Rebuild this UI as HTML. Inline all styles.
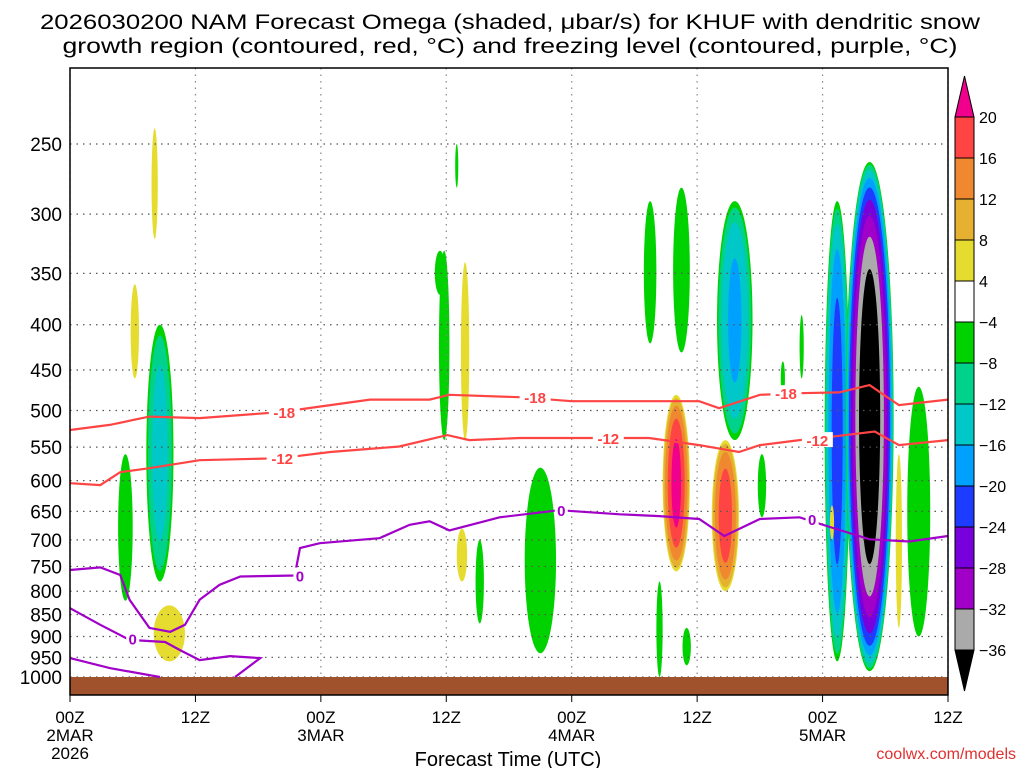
<!DOCTYPE html>
<html><head><meta charset="utf-8"><style>
html,body{margin:0;padding:0;background:#fff;}
svg{display:block;font-family:"Liberation Sans",sans-serif;}
</style></head><body>
<svg id="chart" width="1024" height="768" viewBox="0 0 1024 768" xmlns="http://www.w3.org/2000/svg">
<text x="510" y="29" font-size="21" text-anchor="middle" textLength="940" lengthAdjust="spacingAndGlyphs">2026030200 NAM Forecast Omega (shaded, μbar/s) for KHUF with dendritic snow</text>
<text x="510" y="53" font-size="21" text-anchor="middle" textLength="895" lengthAdjust="spacingAndGlyphs">growth region (contoured, red, °C) and freezing level (contoured, purple, °C)</text>
<g id="shade"></g>
<g id="grid"></g>
<rect x="70" y="677" width="878" height="18" fill="#a0522d"/>
<g id="lines"></g>
<rect x="70" y="68" width="878" height="627" fill="none" stroke="#000" stroke-width="1.5"/>
<g id="axes"></g>
<g id="cbar"></g>
<text x="508" y="766" font-size="20" text-anchor="middle">Forecast Time (UTC)</text>
<text x="1016" y="759" font-size="16" fill="#e03030" text-anchor="end">coolwx.com/models</text>
</svg>
<script>
const pLevels=[250,300,350,400,450,500,550,600,650,700,750,800,850,900,950,1000];
const xTicks=[0,12,24,36,48,60,72,84];
const xTickLabels=["00Z","12Z","00Z","12Z","00Z","12Z","00Z","12Z"];
const xDayLabels=["2MAR","","3MAR","","4MAR","","5MAR",""];
const cbLevels=[20,16,12,8,4,-4,-8,-12,-16,-20,-24,-28,-32,-36];
const cbColors=["#ff4444","#f08830","#e6b030","#e6dc30","#ffffff","#00d200","#00d28c","#00c8c8","#00a0ff","#1e3cff","#7800dc","#a000c8","#aaaaaa"];
// blobs: hour, pTop, pBottom, halfWidthHours, peakOmega
const blobHours=[8.1,6.2,5.3,8.6,9.5,35.4,35.8,37,37.8,37.5,39.2,45,55.5,58.5,63.6,58,62.7,56.4,59,66.2,68.2,70,73.4,76.5,79.3,81.2,72.9];
const blobTop=[240,360,560,400,830,330,330,250,340,680,700,580,290,280,290,480,540,780,880,560,440,390,290,262,560,470,640];
const blobBottom=[320,460,820,780,960,370,540,280,540,780,870,940,420,430,540,760,800,1000,970,660,480,460,960,985,880,900,700];
const blobWidth=[0.3,0.4,0.7,1.3,1.5,0.5,0.5,0.15,0.4,0.5,0.4,1.5,0.6,0.8,1.7,1.3,1.3,0.3,0.4,0.4,0.2,0.2,1.2,2.3,0.3,1.1,0.2];
const blobPeak=[6,5,-6,-14,6,-6,-7,-5,6,5,-6,-7,-6,-6,-17,20,18,-6,-6,-6,-5,-5,-22,-40,6,-7,5];
// contours
const c18Hours=[0,3.8,7.6,12.4,20.1,24.9,28.7,34.4,36.3,43,48,54.5,60.2,62.1,66,69.8,73.6,76.5,79.3,84];
const c18P=[526,519,508,510,502,493,486,486,480,483,488,488,488,497,480,478,477,468,493,486];
const c12Hours=[0,2.9,4.8,7.6,12.4,20.1,24.9,31.5,36.1,38.2,43,48,55.4,60.2,64,66,69.8,73.6,77,79.3,84];
const c12P=[604,607,587,581,569,566,557,549,533,540,537,537,537,547,557,547,540,534,528,547,540];
const f0aHours=[0,2.9,4.8,5.7,7.6,9.6,11,12.4,14.3,16.3,21.5,22,23.9,29.6,32.5,34.4,36.3,41.1,46.8,52.6,56.4,60.2,62.6,66,69.8,72.7,76.5,80.3,84];
const f0aP=[757,752,767,818,880,889,873,818,787,770,768,715,706,697,673,667,683,660,648,655,658,663,693,663,660,677,699,703,693];
const f0bHours=[0,2.9,5.7,9.1,10.5,12.4,15.3,18.2,15.8];
const f0bP=[836,873,908,913,932,957,947,952,1000];
const f0cHours=[0,3.8,8.6];
const f0cP=[952,977,1000];
const labels=[["-18",20.5,502,"#ff4444"],["-18",44.5,483,"#ff4444"],["-18",68.5,478,"#ff4444"],["-12",20.3,566,"#ff4444"],["-12",51.5,537,"#ff4444"],["-12",71.5,540,"#ff4444"],["0",22,768,"#a000c8"],["0",47,648,"#a000c8"],["0",71,663,"#a000c8"],["0",6,905,"#a000c8"]];

const NS="http://www.w3.org/2000/svg";
const X=h=>70+h*878/84;
const Y=p=>144+384.5*Math.log(p/250);
function mk(tag,attrs,parent){const e=document.createElementNS(NS,tag);for(const k in attrs)e.setAttribute(k,attrs[k]);parent.appendChild(e);return e;}
function colorFor(v){
  if(v>=20) return "#f0008c";
  if(v<=-36) return "#000000";
  for(let i=0;i<cbLevels.length-1;i++){ if(v<=cbLevels[i]&&v>cbLevels[i+1]) return cbColors[i]; }
  return "#fff";
}
const shade=document.getElementById('shade');
for(let i=0;i<blobHours.length;i++){
  const pk=blobPeak[i];const cx=X(blobHours[i]);const y1=Y(blobTop[i]),y2=Y(blobBottom[i]);
  const cy=(y1+y2)/2,ry=(y2-y1)/2,rx=blobWidth[i]*878/84;
  const thr=[];
  if(pk<0){for(let t=-4;t>=pk&&t>=-36;t-=4)thr.push(t);}else{for(let t=4;t<=pk;t+=4)thr.push(t);}
  const base=pk<0?-4:4;
  thr.forEach(t=>{
    let q=(t-base)/((pk-base)||1);
    let f=1-Math.pow(q,1.5);
    f=Math.max(Math.min(f,1),0.1);
    const fx=Math.pow(f,0.45), fy=Math.pow(f,0.3);
    const e=mk('ellipse',{cx:cx,cy:cy,rx:Math.max(rx*fx,1),ry:Math.max(ry*fy,2),fill:pk<0?colorFor(t-0.01):colorFor(t+0.01)},shade);
    
    
  });
}
const grid=document.getElementById('grid');
pLevels.forEach(p=>{const l=mk('line',{x1:70,x2:948,y1:Y(p),y2:Y(p),stroke:'#555','stroke-dasharray':'1.5,5','stroke-width':1.2},grid);
});
xTicks.forEach(h=>{const l=mk('line',{x1:X(h),x2:X(h),y1:68,y2:695,stroke:'#888','stroke-dasharray':'1.5,5','stroke-width':1.2},grid);
});
const lines=document.getElementById('lines');
function poly(hs,ps,col,name){const d=hs.map((h,i)=>(i?'L':'M')+X(h).toFixed(1)+','+Y(ps[i]).toFixed(1)).join('');
const e=mk('path',{d:d,fill:'none',stroke:col,'stroke-width':2.2},lines);}
poly(c18Hours,c18P,'#ff4444','contour-minus18');
poly(c12Hours,c12P,'#ff4444','contour-minus12');
poly(f0aHours,f0aP,'#a000c8','freezing-level-main');
poly(f0bHours,f0bP,'#a000c8','freezing-level-lower');
poly(f0cHours,f0cP,'#a000c8','freezing-level-bottom');
labels.forEach(l=>{const x=X(l[1]),y=Y(l[2]);const w=l[0].length*9;
const r=mk('rect',{x:x-w/2-2,y:y-8,width:w+4,height:15,fill:'#fff'},lines);
const t=mk('text',{x:x,y:y+6,'font-size':15,'font-weight':'bold',fill:l[3],'text-anchor':'middle'},lines);t.textContent=l[0];
});
const axes=document.getElementById('axes');
pLevels.forEach(p=>{const t=mk('text',{x:62,y:Y(p)+7,'font-size':19,'text-anchor':'end'},axes);t.textContent=p;
});
xTicks.forEach((h,i)=>{const x=X(h);
const tk=mk('line',{x1:x,x2:x,y1:695,y2:702,stroke:'#000'},axes);
const t=mk('text',{x:x,y:723,'font-size':17,'text-anchor':'middle'},axes);t.textContent=xTickLabels[i];
if(xDayLabels[i]){const d=mk('text',{x:x,y:741,'font-size':17,'text-anchor':'middle'},axes);d.textContent=xDayLabels[i];}
});
const yr=mk('text',{x:70,y:759,'font-size':17,'text-anchor':'middle'},axes);yr.textContent="2026";
const cb=document.getElementById('cbar');const cx0=955,cw=19;
for(let i=0;i<cbColors.length;i++){const y0=117+i*41;const r=mk('rect',{x:cx0,y:y0,width:cw,height:41,fill:cbColors[i],stroke:'#000','stroke-width':1},cb);
}
const tr=mk('polygon',{points:`${cx0},117 ${cx0+cw},117 ${cx0+cw/2},76`,fill:'#f0008c',stroke:'#000'},cb);
const br=mk('polygon',{points:`${cx0},650 ${cx0+cw},650 ${cx0+cw/2},691`,fill:'#000',stroke:'#000'},cb);
cbLevels.forEach((v,i)=>{const t=mk('text',{x:979,y:117+i*41+6,'font-size':16},cb);t.textContent=v<0?'−'+(-v):v;
});
</script>
</body></html>
